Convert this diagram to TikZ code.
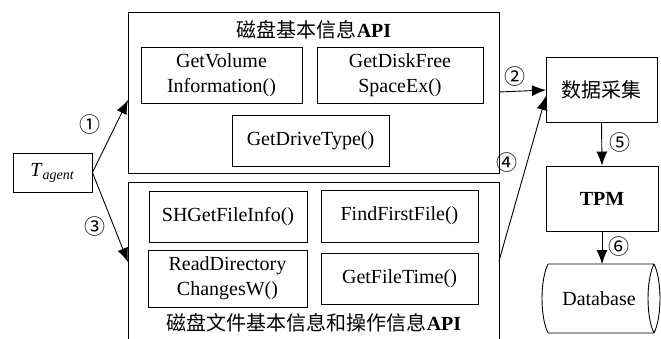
\documentclass[tikz,border=0pt]{standalone}
\usepackage{fontspec}
\setmainfont{Liberation Serif}
\newfontfamily\cjk{Noto Sans CJK SC}
\usetikzlibrary{arrows.meta}
\tikzset{
  box/.style={draw, line width=0.9pt, rectangle, inner sep=0pt, align=center, font=\fontsize{20}{25}\selectfont},
  txt/.style={inner sep=0pt, align=center, font=\fontsize{20}{25}\selectfont},
  num/.style={inner sep=0pt, font=\cjk\fontsize{21}{21}\selectfont},
  conn/.style={line width=0.9pt, -{Latex[length=14pt,width=11pt]}},
}
\begin{document}
\begin{tikzpicture}[x=1pt,y=-1pt]
\useasboundingbox (0,0) rectangle (661,338);
% big boxes
\node[box, minimum width=371pt, minimum height=161pt] (diskapi) at (313.5,92.5) {};
\node[box, minimum width=371pt, minimum height=164pt] (fileapi) at (313.5,264) {};
\node[txt] (t1) at (314,30) {{\cjk 磁盘基本信息}\textbf{API}};
\node[txt] (t2) at (314,323) {{\cjk 磁盘文件基本信息和操作信息}\textbf{API}};
% inner boxes
\node[box, minimum width=161pt, minimum height=56pt] (vol) at (221.5,75) {GetVolume\\Information()};
\node[box, minimum width=166pt, minimum height=56pt] (free) at (400,75) {GetDiskFree\\SpaceEx()};
\node[box, minimum width=157pt, minimum height=51pt] (drive) at (310.5,140.5) {GetDriveType()};
\node[box, minimum width=158pt, minimum height=51pt] (shget) at (228,216.5) {SHGetFileInfo()};
\node[box, minimum width=157pt, minimum height=52pt] (ffirst) at (399.5,216) {FindFirstFile()};
\node[box, minimum width=159pt, minimum height=57pt] (rdir) at (227.5,278.5) {ReadDirectory\\ChangesW()};
\node[box, minimum width=157pt, minimum height=51pt] (ftime) at (399.5,278.5) {GetFileTime()};
% left and right
\node[box, minimum width=79pt, minimum height=39pt] (agent) at (52.5,172.5) {\textit{T}\textsubscript{\textit{\fontsize{14}{14}\selectfont agent}}};
\node[box, minimum width=111pt, minimum height=65pt] (collect) at (601.5,89.5) {\cjk 数据采集};
\node[box, minimum width=112pt, minimum height=65pt] (tpm) at (602,198.5) {\textbf{TPM}};
% database cylinder
\draw[line width=0.9pt] (548,264) -- (654,264)
  (548,333) -- (654,333)
  (548,264) .. controls (540,280) and (540,317) .. (548,333)
  (654,264) .. controls (646,280) and (646,317) .. (654,333)
  (654,264) .. controls (662,280) and (662,317) .. (654,333);
\node[txt] (db) at (599,299) {Database};
\coordinate (dbtop) at (602,264);
% connectors
\coordinate (a1) at (128,100);
\coordinate (a3) at (128,262);
\coordinate (s2) at (499,92);
\coordinate (s4) at (499,261);
\coordinate (e2) at (546,90);
\coordinate (e4) at (546,96);
\draw[conn] (agent.east) -- (a1);
\draw[conn] (agent.east) -- (a3);
\draw[conn] (s2) -- (e2);
\draw[conn] (s4) -- (e4);
\draw[conn] (collect.south) -- (tpm.north);
\draw[conn] (tpm.south) -- (dbtop);
% labels
\node[num] (n1) at (90,125) {①};
\node[num] (n2) at (515,77) {②};
\node[num] (n3) at (95,227) {③};
\node[num] (n4) at (507,163) {④};
\node[num] (n5) at (620,143) {⑤};
\node[num] (n6) at (619,247) {⑥};
\end{tikzpicture}
\end{document}
